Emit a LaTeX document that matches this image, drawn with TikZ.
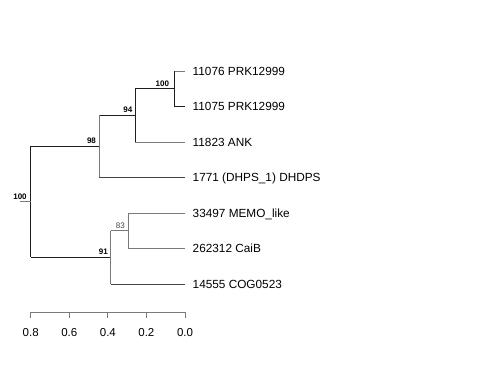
\documentclass[tikz,border=0pt]{standalone}
\usepackage{fontspec}
\setmainfont{Liberation Sans}
\definecolor{blk}{HTML}{1E1E1E}
\definecolor{gry}{HTML}{7A7A7A}
\definecolor{dgry}{HTML}{444444}
\tikzset{
  br/.style={line width=1pt, blk},
  brg/.style={line width=1pt, gry},
  brd/.style={line width=1pt, dgry},
  leaf/.style={anchor=base west, inner sep=0pt, font=\fontsize{11.8}{12}\selectfont},
  boot/.style={anchor=base, inner sep=0pt, font=\fontsize{8}{8}\selectfont\bfseries},
  bootl/.style={anchor=base, inner sep=0pt, font=\fontsize{8}{8}\selectfont, text=dgry},
  axlab/.style={anchor=base, inner sep=0pt, font=\fontsize{11.5}{12}\selectfont},
  axl/.style={line width=1pt, gry}
}
\begin{document}
\begin{tikzpicture}[x=1pt,y=-1pt]
\useasboundingbox (0,0) rectangle (480,384);
% leaf tips
\coordinate (l1) at (185,71);
\coordinate (l2) at (185,106.5);
\coordinate (l3) at (185,142);
\coordinate (l4) at (185,177.5);
\coordinate (l5) at (185,213);
\coordinate (l6) at (185,248.5);
\coordinate (l7) at (185,284);
% internal nodes
\coordinate (nA) at (174,88.5);   % 100
\coordinate (nB) at (135,115);    % 94
\coordinate (nC) at (99,146);     % 98
\coordinate (nR) at (30.7,201.5); % root 100
\coordinate (nE) at (128,230.7);  % 83
\coordinate (nD) at (110.7,257);  % 91
\coordinate (rs) at (20,201.5);
% branches
\draw[brg] (nA |- l1) -- (l1);
\draw[br] (nA |- l2) -- (l2);
\draw[br] (nA |- l1) -- (nA |- l2);
\draw[br] (nB |- nA) -- (nA);
\draw[br] (nB |- nA) -- (nB |- l3);
\draw[brg] (nB |- l3) -- (l3);
\draw[br] (nC |- nB) -- (nB);
\draw[brg] (nC |- nB) -- (nC |- l4);
\draw[brd] (nC |- l4) -- (l4);
\draw[br] (nR |- nC) -- (nC);
\draw[br] (nR |- nC) -- (nR |- nD);
\draw[brg] (rs) -- (nR);
\draw[br] (nR |- nD) -- (nD);
\draw[brg] (nD |- nE) -- (nD |- l7);
\draw[brg] (nD |- nE) -- (nE);
\draw[brg] (nE |- l5) -- (nE |- l6);
\draw[brg] (nE |- l5) -- (l5);
\draw[brg] (nE |- l6) -- (l6);
\draw[brd] (nD |- l7) -- (l7);
% leaf labels
\node[leaf] (t1) at ([shift={(7.5,4.2)}]l1) {11076 PRK12999};
\node[leaf] (t2) at ([shift={(7.5,4.2)}]l2) {11075 PRK12999};
\node[leaf] (t3) at ([shift={(7.5,4.2)}]l3) {11823 ANK};
\node[leaf] (t4) at ([shift={(7.5,4.2)}]l4) {1771 (DHPS\_1) DHDPS};
\node[leaf] (t5) at ([shift={(7.5,4.2)}]l5) {33497 MEMO\_like};
\node[leaf] (t6) at ([shift={(7.5,4.2)}]l6) {262312 CaiB};
\node[leaf] (t7) at ([shift={(7.5,4.2)}]l7) {14555 COG0523};
% bootstrap labels
\node[boot] (bA) at (162.3,86) {100};
\node[boot] (bB) at (127.8,112.5) {94};
\node[boot] (bC) at (91.5,143.5) {98};
\node[boot] (bR) at (20,199) {100};
\node[bootl] (bE) at (120.3,228) {83};
\node[boot] (bD) at (103.3,254.5) {91};
% axis
\coordinate (a8) at (30.7,312.3);
\coordinate (a6) at (69.3,312.3);
\coordinate (a4) at (107.9,312.3);
\coordinate (a2) at (146.4,312.3);
\coordinate (a0) at (185,312.3);
\draw[axl] (a8) -- (a0);
\foreach \p/\t in {a8/0.8,a6/0.6,a4/0.4,a2/0.2,a0/0.0}{
  \draw[axl] (\p) -- ++(0,6);
  \node[axlab] (lab\p) at ([shift={(0,24.5)}]\p) {\t};
}
\end{tikzpicture}
\end{document}
